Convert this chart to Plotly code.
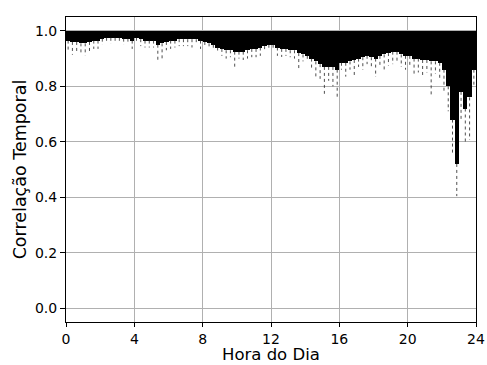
import plotly.graph_objects as go

# Hour bins (0.25 h each), bin centers
bin_width = 0.25
hours = [i * bin_width + bin_width / 2 for i in range(96)]

# Lower edge of the dense (solid) band of the correlation trace
band_low = [
    0.965, 0.96, 0.96, 0.955,
    0.955, 0.96, 0.965, 0.965,
    0.972, 0.975, 0.975, 0.975,
    0.975, 0.972, 0.972, 0.965,
    0.975, 0.97, 0.965, 0.965,
    0.965, 0.95, 0.955, 0.96,
    0.965, 0.965, 0.97, 0.97,
    0.97, 0.97, 0.97, 0.965,
    0.96, 0.955, 0.95, 0.94,
    0.935, 0.93, 0.93, 0.925,
    0.925, 0.925, 0.93, 0.935,
    0.935, 0.94, 0.945, 0.95,
    0.95, 0.94, 0.935, 0.935,
    0.93, 0.93, 0.92, 0.915,
    0.91, 0.90, 0.89, 0.88,
    0.87, 0.87, 0.87, 0.86,
    0.885, 0.885, 0.89, 0.895,
    0.90, 0.905, 0.91, 0.905,
    0.90, 0.91, 0.915, 0.92,
    0.925, 0.925, 0.915, 0.91,
    0.91, 0.90, 0.90, 0.895,
    0.895, 0.89, 0.89, 0.885,
    0.86, 0.80, 0.68, 0.52,
    0.78, 0.72, 0.76, 0.86,
]

# Minimum value reached in each bin (deep dips)
dip_min = [
    0.93, 0.914, 0.925, 0.92,
    0.911, 0.92, 0.935, 0.935,
    0.95, 0.955, 0.953, 0.96,
    0.955, 0.95, 0.955, 0.935,
    0.955, 0.945, 0.94, 0.94,
    0.94, 0.89, 0.90, 0.93,
    0.935, 0.94, 0.945, 0.945,
    0.945, 0.94, 0.95, 0.935,
    0.94, 0.94, 0.93, 0.92,
    0.91, 0.90, 0.905, 0.87,
    0.90, 0.895, 0.90, 0.905,
    0.905, 0.91, 0.925, 0.93,
    0.93, 0.91, 0.906, 0.91,
    0.905, 0.90, 0.856, 0.89,
    0.89, 0.86, 0.835, 0.827,
    0.773, 0.82, 0.80, 0.755,
    0.86, 0.835, 0.86, 0.835,
    0.87, 0.86, 0.88, 0.865,
    0.834, 0.87, 0.86, 0.875,
    0.88, 0.89, 0.87, 0.86,
    0.875, 0.845, 0.85, 0.84,
    0.85, 0.766, 0.845, 0.82,
    0.78, 0.71, 0.556, 0.404,
    0.675, 0.60, 0.607, 0.80,
]

band_top = [1.0] * len(hours)

x_ticks = [0, 4, 8, 12, 16, 20, 24]
y_ticks = [0.0, 0.2, 0.4, 0.6, 0.8, 1.0]
x_title = "Hora do Dia"
y_title = "Correlação Temporal"

fig = go.Figure()

# Dense band
fig.add_trace(go.Bar(
    x=hours,
    y=[t - b for t, b in zip(band_top, band_low)],
    base=band_low,
    width=bin_width,
    marker=dict(color="black", line=dict(width=0)),
    showlegend=False,
    hoverinfo="skip",
))

# Dips
sx, sy = [], []
for h, b, m in zip(hours, band_low, dip_min):
    sx += [h, h, None]
    sy += [b, m, None]
fig.add_trace(go.Scatter(
    x=sx, y=sy, mode="lines",
    line=dict(color="#222222", width=0.8, dash="dot"),
    showlegend=False, hoverinfo="skip",
))

font = "DejaVu Sans, Arial, sans-serif"
fig.update_layout(
    width=487, height=365,
    margin=dict(l=66, r=11, t=17, b=43),
    paper_bgcolor="white", plot_bgcolor="white",
    bargap=0,
    font=dict(family=font, size=14, color="black"),
    xaxis=dict(
        range=[0, 24], tickvals=x_ticks, ticktext=[str(v) for v in x_ticks],
        showgrid=True, gridcolor="#b0b0b0", gridwidth=1,
        showline=True, linecolor="black", linewidth=1, mirror=True,
        ticks="outside", ticklen=4, tickcolor="black",
        zeroline=False, automargin=False,
    ),
    yaxis=dict(
        range=[-0.05, 1.05], tickvals=y_ticks, ticktext=[f"{v:.1f}" for v in y_ticks],
        showgrid=True, gridcolor="#b0b0b0", gridwidth=1,
        showline=True, linecolor="black", linewidth=1, mirror=True,
        ticks="outside", ticklen=5, tickcolor="black",
        zeroline=False, automargin=False,
        title=dict(text=y_title, font=dict(size=17.5), standoff=3),
    ),
    annotations=[dict(
        text=x_title, xref="paper", yref="paper", x=0.5, y=0,
        xanchor="center", yanchor="top", yshift=-22, showarrow=False,
        borderpad=0,
        font=dict(size=16.5, family=font, color="black"),
    )],
)

fig.write_html("out.html")
